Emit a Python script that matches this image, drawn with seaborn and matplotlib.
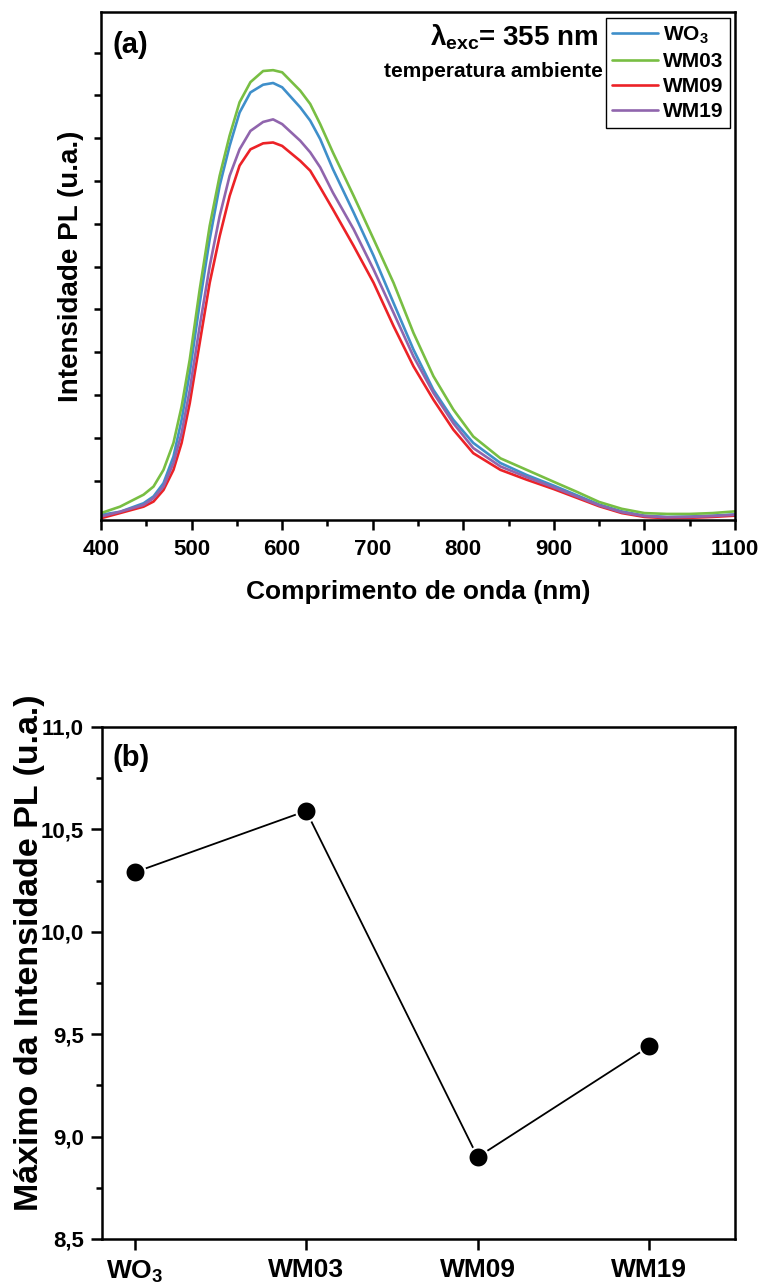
import numpy as np
import pandas as pd
import matplotlib
matplotlib.use("Agg")
import matplotlib.pyplot as plt
from matplotlib.ticker import MultipleLocator, FuncFormatter, NullFormatter
from matplotlib.transforms import offset_copy
import seaborn as sns

# -------------------- data --------------------
WAVELENGTH = [400, 421, 447, 458, 469, 480, 489, 498, 509, 520, 531, 542, 553,
              565, 579, 590, 600, 620, 631, 642, 656, 679, 701, 723, 745, 767,
              789, 811, 841, 870, 900, 925, 950, 975, 1000, 1025, 1050, 1075, 1100]

PL_WO3 = [0.20, 0.27, 0.47, 0.63, 0.94, 1.56, 2.42, 3.52, 5.15, 6.64, 7.89, 8.82, 9.60,
          10.07, 10.25, 10.29, 10.19, 9.72, 9.41, 8.98, 8.28, 7.26, 6.25, 5.15, 4.06, 3.12,
          2.42, 1.88, 1.41, 1.13, 0.88, 0.66, 0.44, 0.28, 0.18, 0.15, 0.16, 0.18, 0.21]
PL_WM03 = [0.24, 0.39, 0.67, 0.86, 1.25, 1.88, 2.73, 3.83, 5.47, 6.95, 8.12, 9.06, 9.84,
           10.31, 10.57, 10.59, 10.54, 10.11, 9.80, 9.33, 8.67, 7.65, 6.64, 5.62, 4.45, 3.44,
           2.66, 2.03, 1.52, 1.25, 0.97, 0.74, 0.50, 0.34, 0.24, 0.22, 0.22, 0.24, 0.28]
PL_WM09 = [0.12, 0.24, 0.39, 0.51, 0.78, 1.25, 1.88, 2.81, 4.22, 5.62, 6.71, 7.65, 8.36,
           8.74, 8.88, 8.90, 8.82, 8.47, 8.24, 7.85, 7.34, 6.48, 5.62, 4.61, 3.67, 2.89,
           2.19, 1.64, 1.25, 1.02, 0.80, 0.60, 0.40, 0.24, 0.15, 0.12, 0.13, 0.15, 0.18]
PL_WM19 = [0.16, 0.27, 0.43, 0.59, 0.86, 1.41, 2.11, 3.12, 4.61, 6.01, 7.18, 8.12, 8.74,
           9.17, 9.38, 9.44, 9.33, 8.94, 8.67, 8.32, 7.73, 6.87, 5.93, 4.92, 3.90, 3.05,
           2.34, 1.76, 1.33, 1.08, 0.84, 0.63, 0.42, 0.26, 0.17, 0.14, 0.15, 0.17, 0.20]

SAMPLES = [r"WO$_\mathbf{3}$", "WM03", "WM09", "WM19"]
COLORS = ["#3f8fca", "#78be43", "#ec2227", "#9065ad"]
PL_MAX = [10.29, 10.59, 8.90, 9.44]

# -------------------- style --------------------
sns.set_theme(style="ticks")
plt.rcParams["font.family"] = ["Liberation Sans", "DejaVu Sans"]
plt.rcParams["font.weight"] = "bold"
plt.rcParams["axes.labelweight"] = "bold"
plt.rcParams["text.color"] = "black"
plt.rcParams["axes.labelcolor"] = "black"
plt.rcParams["xtick.color"] = "black"
plt.rcParams["ytick.color"] = "black"
plt.rcParams["mathtext.fontset"] = "custom"
plt.rcParams["mathtext.rm"] = "Liberation Sans:bold"
plt.rcParams["mathtext.bf"] = "Liberation Sans:bold"
plt.rcParams["mathtext.it"] = "Liberation Sans"
plt.rcParams["mathtext.sf"] = "Liberation Sans"


def main():
    fig = plt.figure(figsize=(7.6, 12.86), dpi=100)
    ax1 = fig.add_axes([0.1329, 0.5957, 0.8342, 0.3950])
    ax2 = fig.add_axes([0.1342, 0.0366, 0.8329, 0.3981])

    # ---------- (a) espectros PL ----------
    spectra = pd.DataFrame({
        "wl": WAVELENGTH * 4,
        "pl": PL_WO3 + PL_WM03 + PL_WM09 + PL_WM19,
        "amostra": np.repeat(SAMPLES, len(WAVELENGTH)),
    })
    sns.lineplot(data=spectra, x="wl", y="pl", hue="amostra", hue_order=SAMPLES,
                 palette=dict(zip(SAMPLES, COLORS)), linewidth=1.9, ax=ax1)

    ax1.set_xlim(400, 1100)
    ax1.set_ylim(0.08, 11.95)
    ax1.xaxis.set_major_locator(MultipleLocator(100))
    ax1.xaxis.set_minor_locator(MultipleLocator(50))
    ax1.yaxis.set_major_locator(MultipleLocator(1))
    ax1.yaxis.set_major_formatter(NullFormatter())
    ax1.tick_params(axis="x", which="major", direction="out", length=7, width=1.8,
                    labelsize=16, pad=7)
    ax1.tick_params(axis="x", which="minor", direction="out", length=4, width=1.8)
    ax1.tick_params(axis="y", direction="out", length=5, width=1.8)
    ax1.set_xlabel("Comprimento de onda (nm)", fontsize=19, labelpad=14)
    ax1.set_ylabel("Intensidade PL (u.a.)", fontsize=20, labelpad=4)

    leg = ax1.get_legend()
    handles = leg.legend_handles
    leg.remove()
    ax1.legend(handles, SAMPLES, loc="upper right", bbox_to_anchor=(0.992, 0.988),
               borderaxespad=0, fancybox=False, edgecolor="black", framealpha=1,
               handlelength=2.2, handletextpad=0.25, labelspacing=0.3,
               borderpad=0.3, prop={"weight": "bold", "size": 15})
    ax1.get_legend().get_frame().set_linewidth(1.0)

    ax1.text(0.018, 0.935, "(a)", transform=ax1.transAxes, fontsize=21,
             fontweight="bold", ha="left", va="center")
    ax1.text(0.785, 0.950, r"$\lambda_{\mathbf{exc}}$= 355 nm", transform=ax1.transAxes,
             fontsize=20, fontweight="bold", ha="right", va="center")
    ax1.text(0.792, 0.882, "temperatura ambiente", transform=ax1.transAxes,
             fontsize=15, fontweight="bold", ha="right", va="center")

    # ---------- (b) maximos ----------
    maxima = pd.DataFrame({"amostra": SAMPLES, "max": PL_MAX})
    sns.lineplot(data=maxima, x="amostra", y="max", color="black", linewidth=1.3,
                 marker="o", markersize=14.5, markerfacecolor="black",
                 markeredgecolor="white", markeredgewidth=1.6, sort=False, ax=ax2)
    shine = offset_copy(ax2.transData, fig=fig, x=-2.5, y=2.5, units="dots")
    sns.scatterplot(data=maxima, x="amostra", y="max", color="#6e6e6e", s=32,
                    linewidth=0, transform=shine, ax=ax2)
    shine2 = offset_copy(ax2.transData, fig=fig, x=-3.0, y=3.0, units="dots")
    sns.scatterplot(data=maxima, x="amostra", y="max", color="#d8d8d8", s=9,
                    linewidth=0, transform=shine2, ax=ax2)

    ax2.set_xlim(-0.19, 3.5)
    ax2.set_ylim(8.5, 11.0)
    ax2.yaxis.set_major_locator(MultipleLocator(0.5))
    ax2.yaxis.set_minor_locator(MultipleLocator(0.25))
    ax2.yaxis.set_major_formatter(FuncFormatter(lambda v, p: f"{v:.1f}".replace(".", ",")))
    ax2.tick_params(axis="y", which="major", direction="out", length=8, width=1.8,
                    labelsize=16, pad=5)
    ax2.tick_params(axis="y", which="minor", direction="out", length=4, width=1.8)
    ax2.tick_params(axis="x", direction="out", length=8, width=1.8, labelsize=19, pad=6)
    ax2.set_xlabel("")
    ax2.set_ylabel("Máximo da Intensidade PL (u.a.)", fontsize=24.5)
    ax2.yaxis.set_label_coords(-0.09, 0.56)
    ax2.text(0.016, 0.939, "(b)", transform=ax2.transAxes, fontsize=21,
             fontweight="bold", ha="left", va="center")

    for ax in (ax1, ax2):
        for sp in ax.spines.values():
            sp.set_visible(True)
            sp.set_linewidth(1.8)
            sp.set_color("black")

    fig.savefig("out.png", dpi=100, facecolor="white")
    plt.close(fig)


if __name__ == "__main__":
    main()
